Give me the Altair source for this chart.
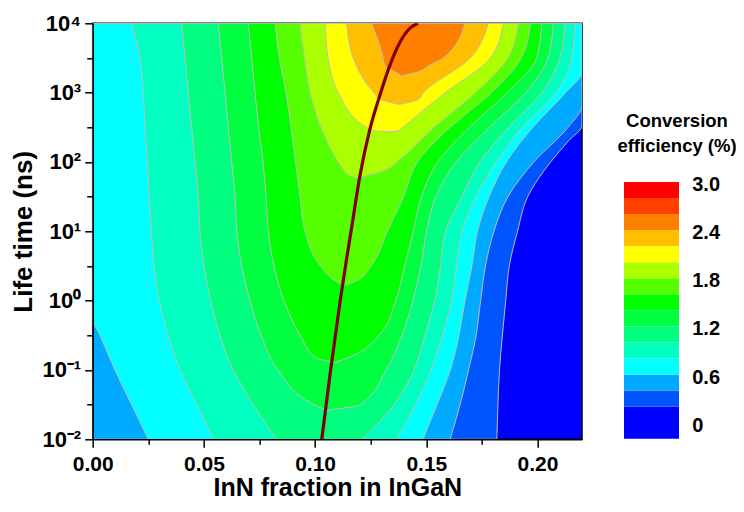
import altair as alt
import pandas as pd

FONT = "Liberation Sans"

# ---- contour regions: efficiency >= level, per log10(lifetime/ns) row: left / right InN fraction
E_02 = [4, 3, 2.53, 2.3, 2, 1.5, 1, 0.5, 0, -0.5, -1, -1.5, -2]
L_02 = [0, 0, 0, 0, 0, 0, 0, 0, 0, 0, 0, 0, 0]
R_02 = [0.22, 0.22, 0.22, 0.2138, 0.2059, 0.1956, 0.1910, 0.1873, 0.1857, 0.1842, 0.1829, 0.1822, 0.1817]

E_04 = [4, 2.82, 2.5, 2, 1.5, 1, 0.5, 0, -0.5, -1, -1.5, -2]
L_04 = [0, 0, 0, 0, 0, 0, 0, 0, 0, 0, 0, 0]
R_04 = [0.22, 0.22, 0.2137, 0.1983, 0.1867, 0.1804, 0.1766, 0.1744, 0.1724, 0.1690, 0.1652, 0.1607]

E_06 = [4, 3.30, 3, 2.5, 2, 1.5, 1, 0.5, 0, -0.26, -0.5, -1, -1.5, -2]
L_06 = [0, 0, 0, 0, 0, 0, 0, 0, 0, 0, 0.0033, 0.0100, 0.0175, 0.0250]
R_06 = [0.22, 0.22, 0.2126, 0.1979, 0.1860, 0.1782, 0.1730, 0.1705, 0.1674, 0.1660, 0.1647, 0.1608, 0.1548, 0.1485]

E_08 = [4, 3.5, 3, 2.5, 2, 1.5, 1, 0.5, 0, -0.5, -1, -1.5, -2]
L_08 = [0.0175, 0.0213, 0.0228, 0.0235, 0.0246, 0.0254, 0.0264, 0.0276, 0.0299, 0.0340, 0.0393, 0.0468, 0.0542]
R_08 = [0.2169, 0.2154, 0.2083, 0.1931, 0.1815, 0.1724, 0.1661, 0.1636, 0.1613, 0.1573, 0.1521, 0.1452, 0.1367]

E_10 = [4, 3.5, 3, 2.5, 2, 1.5, 1, 0.5, 0, -0.5, -1, -1.5, -2]
L_10 = [0.0400, 0.0415, 0.0430, 0.0445, 0.0460, 0.0475, 0.0482, 0.0500, 0.0531, 0.0572, 0.0632, 0.0722, 0.0827]
R_10 = [0.2124, 0.2101, 0.2020, 0.1871, 0.1741, 0.1659, 0.1587, 0.1564, 0.1538, 0.1494, 0.1445, 0.1355, 0.1210]

E_12 = [4, 3.5, 3, 2.5, 2, 1.5, 1, 0.5, 0, -0.5, -1, -1.5, -1.58]
L_12 = [0.0565, 0.0580, 0.0595, 0.0610, 0.0625, 0.0640, 0.0648, 0.0670, 0.0707, 0.0757, 0.0833, 0.0995, 0.1050]
R_12 = [0.2071, 0.2047, 0.1946, 0.1784, 0.1635, 0.1543, 0.1501, 0.1476, 0.1440, 0.1391, 0.1319, 0.1202, 0.1050]

E_14 = [4, 3.5, 3, 2.5, 2, 1.5, 1, 0.5, 0, -0.5, -0.83, -0.89]
L_14 = [0.0700, 0.0715, 0.0730, 0.0746, 0.0766, 0.0779, 0.0790, 0.0815, 0.0860, 0.0933, 0.1007, 0.1089]
R_14 = [0.2019, 0.1996, 0.1864, 0.1694, 0.1552, 0.1478, 0.1442, 0.1403, 0.1362, 0.1287, 0.1143, 0.1089]

E_16 = [4, 3.5, 3, 2.5, 2, 1.5, 1, 0.5, 0.3, 0.22]
L_16 = [0.0820, 0.0839, 0.0869, 0.0892, 0.0912, 0.0932, 0.0955, 0.1024, 0.1085, 0.1127]
R_16 = [0.1969, 0.1927, 0.1793, 0.1607, 0.1460, 0.1398, 0.1325, 0.1251, 0.1195, 0.1127]

E_18 = [4, 3.5, 3, 2.5, 2, 1.9, 1.8, 1.77]
L_18 = [0.0932, 0.0952, 0.0978, 0.1026, 0.1104, 0.1125, 0.1157, 0.1188]
R_18 = [0.1914, 0.1867, 0.1721, 0.1536, 0.1368, 0.1328, 0.1229, 0.1188]

E_20 = [4, 3.5, 3, 2.5, 2.45, 2.435]
L_20 = [0.1045, 0.1058, 0.1104, 0.1232, 0.1269, 0.1327]
R_20 = [0.1846, 0.1788, 0.1585, 0.1395, 0.1377, 0.1327]

E_22 = [4, 3.5, 3, 2.9, 2.83]
L_22 = [0.1142, 0.1171, 0.1265, 0.1296, 0.1378]
R_22 = [0.1779, 0.1698, 0.1487, 0.1463, 0.1378]

E_24 = [4, 3.5, 3.4, 3.3, 3.24]
L_24 = [0.1254, 0.1306, 0.1312, 0.1359, 0.1390]
R_24 = [0.1674, 0.1576, 0.1517, 0.1463, 0.1390]

LEVELS = [0.2, 0.4, 0.6, 0.8, 1.0, 1.2, 1.4, 1.6, 1.8, 2.0, 2.2, 2.4]
LEVEL_COLORS = ["#0055FF", "#00AAFF", "#00FFFF", "#00FFC0", "#00FF80", "#00FF40",
                "#00FF00", "#55FF00", "#AAFF00", "#FFFF00", "#FFBF00", "#FF8000"]
REGIONS = [(E_02, L_02, R_02), (E_04, L_04, R_04), (E_06, L_06, R_06), (E_08, L_08, R_08),
           (E_10, L_10, R_10), (E_12, L_12, R_12), (E_14, L_14, R_14), (E_16, L_16, R_16),
           (E_18, L_18, R_18), (E_20, L_20, R_20), (E_22, L_22, R_22), (E_24, L_24, R_24)]
BACKGROUND_COLOR = "#0000FF"

# ---- dark red curve
LINE_E = [-2, -1.07, -0.02, 0.61, 1.07, 1.81, 2.48, 2.97, 3.40, 3.73, 3.93, 4.0]
LINE_X = [0.1030, 0.1067, 0.1112, 0.1142, 0.1165, 0.1202, 0.1247, 0.1292, 0.1337, 0.1382, 0.1427, 0.1463]

# ---- colour bar
LEG_LO = [-0.2, 0.2, 0.4, 0.6, 0.8, 1.0, 1.2, 1.4, 1.6, 1.8, 2.0, 2.2, 2.4, 2.6, 2.8]
LEG_HI = [0.2, 0.4, 0.6, 0.8, 1.0, 1.2, 1.4, 1.6, 1.8, 2.0, 2.2, 2.4, 2.6, 2.8, 3.0]
LEG_COLORS = ["#0000FF", "#0055FF", "#00AAFF", "#00FFFF", "#00FFC0", "#00FF80", "#00FF40",
              "#00FF00", "#55FF00", "#AAFF00", "#FFFF00", "#FFBF00", "#FF8000", "#FF4000", "#FF0000"]
LEG_LABEL_VALUES = [0, 0.6, 1.2, 1.8, 2.4, 3.0]
LEG_LABEL_TEXT = ["0", "0.6", "1.2", "1.8", "2.4", "3.0"]
LEGEND_TITLE = "Conversion\nefficiency (%)"

X_TICKS = [0.0, 0.025, 0.05, 0.075, 0.1, 0.125, 0.15, 0.175, 0.2]
Y_TICKS = [10 ** (k / 2) for k in range(-4, 9)]

x_scale = alt.Scale(domain=[0, 0.22], nice=False, zero=False)
y_scale = alt.Scale(type="log", domain=[0.01, 10000], nice=False)
leg_scale = alt.Scale(domain=[-0.2075, 4.978], nice=False, zero=False)

x_major = "abs(datum.value*20 - round(datum.value*20)) < 0.001"
y_major = "abs(log(datum.value)/LN10 - round(log(datum.value)/LN10)) < 0.01"

x_axis = alt.Axis(
    values=X_TICKS, title="InN fraction in InGaN",
    labelExpr=f"{x_major} ? format(datum.value, '.2f') : ''",
    labelFlush=False, labelOverlap=False, grid=False,
    tickSize={"condition": {"test": x_major, "value": 8}, "value": 5},
    tickColor="black", tickWidth=1.5, domainColor="black", domainWidth=1.5,
    labelFont=FONT, labelFontSize=21, labelFontWeight="bold", labelColor="black", labelPadding=6,
    titleFont=FONT, titleFontSize=25, titleFontWeight="bold", titleColor="black", titlePadding=1,
    zindex=1,
)
y_axis = alt.Axis(
    values=Y_TICKS, title="Life time (ns)",
    labelExpr=f"{y_major} ? '10' + ['⁻²','⁻¹','⁰','¹','²','³','⁴'][round(log(datum.value)/LN10) + 2] : ''",
    labelFlush=False, labelOverlap=False, grid=False,
    tickSize={"condition": {"test": y_major, "value": 8}, "value": 6},
    tickColor="black", tickWidth=1.5, domainColor="black", domainWidth=1.5,
    labelFont=FONT, labelFontSize=22, labelFontWeight="bold", labelColor="black", labelPadding=4,
    titleFont=FONT, titleFontSize=26, titleFontWeight="bold", titleColor="black", titlePadding=5,
    zindex=1,
)

layers = []
for col, (e, l, r) in zip(LEVEL_COLORS, REGIONS):
    df = pd.DataFrame({"lifetime": [10 ** v for v in e], "left": l, "right": r})
    layers.append(
        alt.Chart(df).mark_area(
            orient="horizontal", interpolate="monotone", fill=col,
            stroke="#BDBDBD", strokeWidth=1, clip=True,
        ).encode(
            y=alt.Y("lifetime:Q", scale=y_scale, axis=y_axis),
            x=alt.X("left:Q", scale=x_scale, axis=x_axis),
            x2="right:Q",
        )
    )

line_df = pd.DataFrame({"lifetime": [10 ** v for v in LINE_E], "left": LINE_X})
line = alt.Chart(line_df).mark_line(
    color="#800000", strokeWidth=3.2, interpolate="monotone", clip=True
).encode(
    x=alt.X("left:Q", scale=x_scale, axis=x_axis),
    y=alt.Y("lifetime:Q", scale=y_scale, axis=y_axis),
)

contours = alt.layer(*layers, line)

# ---- colour bar legend (drawn beside the plot area)
leg_df = pd.DataFrame({"lo": LEG_LO, "hi": LEG_HI, "color": LEG_COLORS})
leg_rect = alt.Chart(leg_df).mark_rect().encode(
    x=alt.value(531.3), x2=alt.value(586.3),
    y=alt.Y("lo:Q", scale=leg_scale, axis=None),
    y2="hi:Q",
    fill=alt.Fill("color:N", scale=None),
)
lab_df = pd.DataFrame({"lo": LEG_LABEL_VALUES, "label": LEG_LABEL_TEXT})
leg_labels = alt.Chart(lab_df).mark_text(
    align="left", baseline="middle", dy=3,
    font=FONT, fontSize=20, fontWeight="bold", color="black",
).encode(
    x=alt.value(599.5),
    y=alt.Y("lo:Q", scale=leg_scale, axis=None),
    text="label:N",
)
leg_title = alt.Chart(pd.DataFrame({"t": [LEGEND_TITLE]})).mark_text(
    lineBreak="\n", lineHeight=25, align="center", baseline="alphabetic",
    font=FONT, fontSize=18.5, fontWeight="bold", color="black",
).encode(x=alt.value(584.3), y=alt.value(103.2), text="t:N")

legend = alt.layer(leg_rect, leg_labels, leg_title)

chart = alt.layer(contours, legend).resolve_scale(y="independent").properties(
    width=489.3, height=416,
    autosize=alt.AutoSizeParams(type="none"),
    padding={"left": 84.7, "top": 15.3, "right": 154, "bottom": 61.7},
    view=alt.ViewBackground(fill=BACKGROUND_COLOR, stroke="black", strokeWidth=1.5),
).configure(font=FONT)

chart.save("out.html", embed_options={"renderer": "svg", "actions": False})
